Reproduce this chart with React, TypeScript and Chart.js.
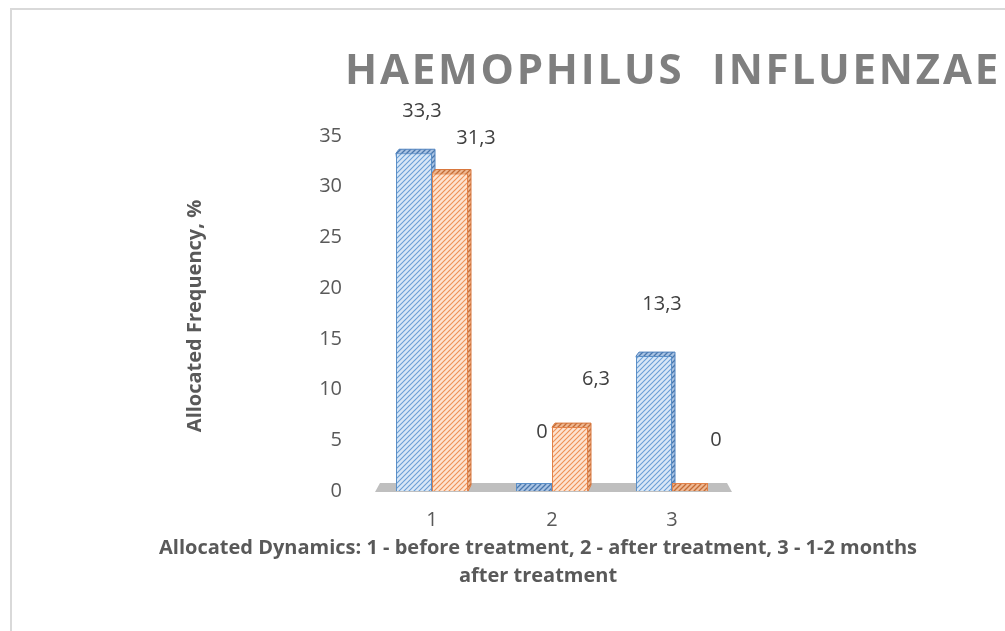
import React, { useEffect, useRef } from 'react';
import { Chart, registerables } from 'chart.js';

Chart.register(...registerables);

const categories = ['1', '2', '3'];
const seriesBlue = [33.3, 0, 13.3];
const seriesOrange = [31.3, 6.3, 0];
const yMin = 0;
const yMax = 35;
const yStep = 5;
const chartTitle = 'HAEMOPHILUS  INFLUENZAE';
const yTitle = 'Allocated Frequency, %';
const xTitleLines = [
  'Allocated Dynamics: 1 - before treatment, 2 - after treatment, 3 - 1-2 months',
  'after treatment',
];

const FONT = '"Open Sans", "Noto Sans", sans-serif';

function hatch(bg: string, fg: string, lw = 1.1): CanvasPattern | string {
  const c = document.createElement('canvas');
  c.width = 5;
  c.height = 5;
  const x = c.getContext('2d');
  if (!x) return bg;
  x.fillStyle = bg;
  x.fillRect(0, 0, 5, 5);
  x.strokeStyle = fg;
  x.lineWidth = lw;
  x.beginPath();
  x.moveTo(-1, 6);
  x.lineTo(6, -1);
  x.moveTo(-3.5, 3.5);
  x.lineTo(3.5, -3.5);
  x.moveTo(1.5, 8.5);
  x.lineTo(8.5, 1.5);
  x.stroke();
  return x.createPattern(c, 'repeat') || bg;
}

const fmt = (v: number) => String(v).replace('.', ',');

export default function App() {
  const ref = useRef<HTMLCanvasElement | null>(null);

  useEffect(() => {
    const canvas = ref.current;
    if (!canvas) return;
    document.body.style.overflow = 'hidden';

    const blueFront = hatch('#d8e7f7', '#6a9fd6');
    const blueDark = hatch('#a9c3e3', '#4a78ad', 1.3);
    const orangeFront = hatch('#fde3d1', '#ef9155');
    const orangeDark = hatch('#eeb893', '#c46c36', 1.3);
    const darks = [blueDark, orangeDark];
    const edges = ['#4f81bd', '#d9773c'];

    const decor = {
      id: 'decor',
      beforeDatasetsDraw(chart: any) {
        const { ctx, chartArea } = chart;
        const b = chartArea.bottom;
        const l = chartArea.left;
        const r = chartArea.right;
        ctx.save();
        ctx.fillStyle = '#bfbfbf';
        ctx.beginPath();
        ctx.moveTo(l + 8, b - 8);
        ctx.lineTo(r - 5, b - 8);
        ctx.lineTo(r, b + 1);
        ctx.lineTo(l + 3, b + 1);
        ctx.closePath();
        ctx.fill();

        // 3D top caps and side faces
        chart.data.datasets.forEach((ds: any, di: number) => {
          const meta = chart.getDatasetMeta(di);
          meta.data.forEach((el: any, i: number) => {
            if (ds.data[i] === 0) return;
            const w = el.width;
            const x0 = el.x - w / 2;
            const x1 = el.x + w / 2;
            const t = el.y;
            ctx.fillStyle = darks[di];
            ctx.beginPath();
            ctx.moveTo(x0, t);
            ctx.lineTo(x0 + 3, t - 4);
            ctx.lineTo(x1 + 3, t - 4);
            ctx.lineTo(x1 + 3, b - 6);
            ctx.lineTo(x1, b);
            ctx.closePath();
            ctx.fill();
            ctx.strokeStyle = edges[di];
            ctx.lineWidth = 1;
            ctx.stroke();
          });
        });
        ctx.restore();
      },
      afterDatasetsDraw(chart: any) {
        const { ctx, chartArea } = chart;
        const yScale = chart.scales.y;
        const b = chartArea.bottom;
        const offs = [
          { dx: 8, off: 59 },
          { dx: 26, off: 51 },
        ];
        ctx.save();
        ctx.font = `20px ${FONT}`;
        ctx.fillStyle = '#404040';
        ctx.textAlign = 'center';
        ctx.textBaseline = 'middle';
        chart.data.datasets.forEach((ds: any, di: number) => {
          const meta = chart.getDatasetMeta(di);
          meta.data.forEach((el: any, i: number) => {
            const v = ds.data[i];
            const py = yScale.getPixelForValue(v);
            const y = b - (b - py) * 0.95 - offs[di].off;
            ctx.fillText(fmt(v), el.x + offs[di].dx, y);
          });
        });
        ctx.restore();
      },
      afterDraw(chart: any) {
        const { ctx } = chart;
        ctx.save();
        // outer frame
        ctx.strokeStyle = '#d9d9d9';
        ctx.lineWidth = 2;
        ctx.beginPath();
        ctx.moveTo(11, 631);
        ctx.lineTo(11, 9);
        ctx.lineTo(1005, 9);
        ctx.stroke();

        // title
        ctx.font = `bold 42px ${FONT}`;
        ctx.fillStyle = '#7f7f7f';
        ctx.textAlign = 'left';
        ctx.textBaseline = 'alphabetic';
        (ctx as any).letterSpacing = '0px';
        const w0 = ctx.measureText(chartTitle).width;
        const ls = (656 - w0) / chartTitle.length;
        (ctx as any).letterSpacing = `${ls}px`;
        ctx.fillText(chartTitle, 345, 84);
        (ctx as any).letterSpacing = '0px';

        // y title
        ctx.save();
        ctx.translate(195, 316);
        ctx.rotate(-Math.PI / 2);
        ctx.font = `bold 20px ${FONT}`;
        ctx.fillStyle = '#595959';
        ctx.textAlign = 'center';
        ctx.textBaseline = 'middle';
        ctx.fillText(yTitle, 0, 0);
        ctx.restore();

        // x title
        ctx.font = `bold 20px ${FONT}`;
        ctx.fillStyle = '#595959';
        ctx.textAlign = 'center';
        ctx.textBaseline = 'middle';
        xTitleLines.forEach((t, i) => ctx.fillText(t, 538, 548 + i * 28));
        ctx.restore();
      },
    };

    const chart = new Chart(canvas, {
      type: 'bar',
      data: {
        labels: categories,
        datasets: [
          {
            label: 'Blue',
            data: seriesBlue,
            backgroundColor: (c: any) => (c.raw === 0 ? blueDark : blueFront),
            borderColor: '#5b8fc7',
            borderWidth: 1,
            categoryPercentage: 0.6,
            barPercentage: 1,
            minBarLength: 8,
          },
          {
            label: 'Orange',
            data: seriesOrange,
            backgroundColor: (c: any) => (c.raw === 0 ? orangeDark : orangeFront),
            borderColor: '#e2824a',
            borderWidth: 1,
            categoryPercentage: 0.6,
            barPercentage: 1,
            minBarLength: 8,
          },
        ],
      },
      options: {
        responsive: false,
        animation: false,
        layout: { padding: { left: 180, right: 273, top: 136, bottom: 80 } },
        plugins: {
          legend: { display: false },
          title: { display: false },
          tooltip: { enabled: false },
        },
        scales: {
          x: {
            grid: { display: false, drawTicks: false },
            border: { display: false },
            ticks: { color: '#595959', font: { family: FONT, size: 20 }, padding: 17 },
            afterFit: (s: any) => {
              s.height = 60;
            },
          },
          y: {
            min: yMin,
            max: yMax,
            grid: { display: false, drawTicks: false },
            border: { display: false },
            ticks: {
              stepSize: yStep,
              color: '#595959',
              font: { family: FONT, size: 20 },
              padding: 30,
            },
            afterFit: (s: any) => {
              s.width = 192;
            },
          },
        },
      },
      plugins: [decor],
    });

    return () => chart.destroy();
  }, []);

  return (
    <canvas
      ref={ref}
      width={1005}
      height={631}
      style={{ position: 'fixed', left: 0, top: 0, width: 1005, height: 631 }}
    />
  );
}
